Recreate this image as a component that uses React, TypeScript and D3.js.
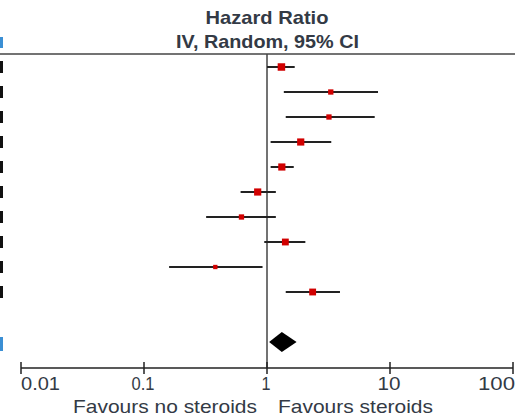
import { useMemo } from 'react';
import * as d3 from 'd3';

// Hazard ratios (study rows, top to bottom)
const hazard = [1.31, 3.3, 3.19, 1.88, 1.32, 0.84, 0.62, 1.41, 0.38, 2.35];
const lower = [1.0, 1.37, 1.42, 1.07, 1.07, 0.61, 0.32, 0.95, 0.16, 1.42];
const upper = [1.68, 7.99, 7.51, 3.33, 1.65, 1.18, 1.18, 2.05, 0.92, 3.92];
const weight = [12, 6, 6, 11, 11, 11, 6, 10, 4, 10];

// pooled estimate (diamond)
const pooled = { hr: 1.32, lo: 1.04, hi: 1.74 };

const ticks = [0.01, 0.1, 1, 10, 100];
const tickLabels = ['0.01', '0.1', '1', '10', '100'];

const W = 515;
const H = 417;
const FONT = '"Liberation Sans", Arial, sans-serif';
const TEXT = '#333a45';

export default function App() {
  const x = useMemo(() => d3.scaleLog().domain([0.01, 100]).range([21, 513]), []);
  const y = useMemo(
    () => d3.scalePoint<number>().domain(d3.range(hazard.length)).range([67, 292]),
    []
  );
  const size = useMemo(() => d3.scaleSqrt().domain([0, d3.max(weight) as number]).range([0, 7.5]), []);

  const axisY = 368;
  const poolY = 342;

  const diamond = [
    [x(pooled.lo), poolY],
    [x(pooled.hr), poolY - 10],
    [x(pooled.hi), poolY],
    [x(pooled.hr), poolY + 10],
  ];

  // the reference text is a bit wider than the font gives; stretch to match
  const tickWidth = [39, 23, 9, 23, 37];

  return (
    <svg
      width={W}
      height={H}
      style={{ position: 'absolute', left: 0, top: 0, background: '#fff' }}
      fontFamily={FONT}
    >
      <rect width={W} height={H} fill="#fff" />

      {/* clipped remains of the left-hand columns */}
      <rect x={0} y={37} width={3} height={11} fill="#3b8fd4" />
      {hazard.map((_, i) => (
        <rect key={i} x={0} y={(y(i) as number) - 6} width={3} height={12} fill="#111" />
      ))}
      <rect x={0} y={337} width={3} height={14} fill="#3b8fd4" />

      {/* header */}
      <text x={267} y={24} textAnchor="middle" fontSize={19} fontWeight="bold" fill={TEXT}
        textLength={123} lengthAdjust="spacingAndGlyphs">
        Hazard Ratio
      </text>
      <text x={267.5} y={48} textAnchor="middle" fontSize={19} fontWeight="bold" fill={TEXT}
        textLength={183} lengthAdjust="spacingAndGlyphs">
        IV, Random, 95% CI
      </text>
      <line x1={0} x2={W} y1={54} y2={54} stroke="#444" strokeWidth={1.6} />

      {/* line of no effect */}
      <line x1={x(1)} x2={x(1)} y1={54} y2={axisY} stroke="#444" strokeWidth={1.5} />

      {/* studies */}
      {hazard.map((v, i) => {
        const cy = y(i) as number;
        const s = size(weight[i]);
        return (
          <g key={i}>
            <line x1={x(lower[i])} x2={x(upper[i])} y1={cy} y2={cy} stroke="#222" strokeWidth={2} />
            <rect x={x(v) - s / 2} y={cy - s / 2} width={s} height={s} fill="#d10000" />
          </g>
        );
      })}

      {/* pooled */}
      <polygon points={diamond.map((p) => p.join(',')).join(' ')} fill="#000" />

      {/* axis */}
      <line x1={x(0.01)} x2={x(100)} y1={axisY} y2={axisY} stroke="#222" strokeWidth={1.6} />
      {ticks.map((t, i) => (
        <g key={t}>
          <line x1={x(t)} x2={x(t)} y1={axisY - 6} y2={axisY + 6} stroke="#222" strokeWidth={1.5} />
          <text
            x={i === 0 ? x(t) : i === ticks.length - 1 ? x(t) + 2 : x(t) - 1}
            y={390}
            textAnchor={i === 0 ? 'start' : i === ticks.length - 1 ? 'end' : 'middle'}
            fontSize={19}
            fill={TEXT}
            textLength={tickWidth[i]}
            lengthAdjust="spacingAndGlyphs"
          >
            {tickLabels[i]}
          </text>
        </g>
      ))}

      <text x={73} y={413} textAnchor="start" fontSize={19} fill={TEXT}
        textLength={184} lengthAdjust="spacingAndGlyphs">
        Favours no steroids
      </text>
      <text x={278} y={413} textAnchor="start" fontSize={19} fill={TEXT}
        textLength={155} lengthAdjust="spacingAndGlyphs">
        Favours steroids
      </text>
    </svg>
  );
}
